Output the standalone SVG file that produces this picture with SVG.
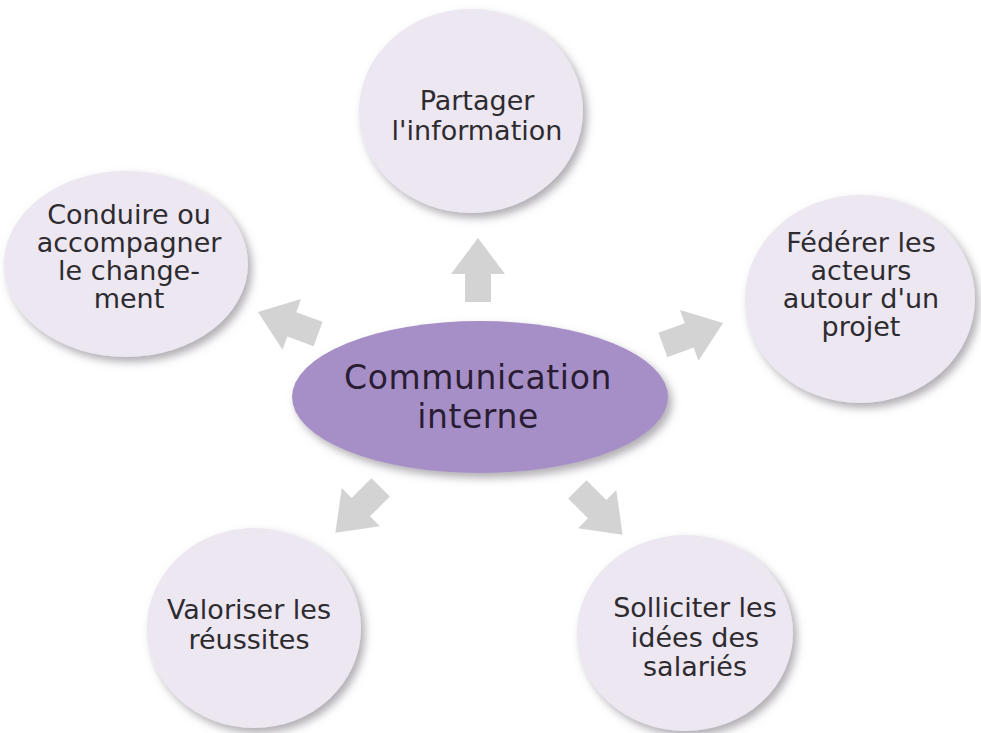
<svg xmlns="http://www.w3.org/2000/svg" width="981" height="733" viewBox="0 0 981 733">
  <defs>
    <filter id="shadow" x="-20%" y="-20%" width="150%" height="150%">
      <feDropShadow dx="4" dy="5" stdDeviation="4" flood-color="#6f6a75" flood-opacity="0.55"/>
    </filter>
    <path id="arrow" d="M-32,-13 H-4 V-27 L32,0 L-4,27 V13 H-32 Z"/>
  </defs>
  <style>
    .bubble { fill: #ece7f1; filter: url(#shadow); }
    .hub { fill: #a68fc6; filter: url(#shadow); }
    .label { font-family: "DejaVu Sans", Verdana, sans-serif; font-size: 27px; fill: #2e2b30; text-anchor: middle; }
    .hub-label { font-family: "DejaVu Sans", Verdana, sans-serif; font-size: 33px; letter-spacing: 0.6px; fill: #2a1d33; text-anchor: middle; }
    .arrow { fill: #d3d3d3; }
  </style>
  <rect width="981" height="733" fill="#ffffff"/>

  <!-- block arrows radiating from the hub -->
  <g id="connectors">
    <use href="#arrow" class="arrow" transform="translate(478,270) rotate(-90)"/>
    <use href="#arrow" class="arrow" transform="translate(693,334) rotate(-20)"/>
    <use href="#arrow" class="arrow" transform="translate(288,323) rotate(200)"/>
    <use href="#arrow" class="arrow" transform="translate(358,510) rotate(135)"/>
    <use href="#arrow" class="arrow" transform="translate(600,512) rotate(45)"/>
  </g>

  <g id="hub">
    <ellipse class="hub" cx="480" cy="397" rx="188" ry="76"/>
    <text class="hub-label" x="478" y="389">Communication</text>
    <text class="hub-label" x="478" y="428">interne</text>
  </g>

  <g id="partager">
    <ellipse class="bubble" cx="471" cy="111" rx="112" ry="102"/>
    <text class="label" x="477" y="110">Partager</text>
    <text class="label" x="477" y="140">l'information</text>
  </g>

  <g id="conduire">
    <ellipse class="bubble" cx="126" cy="264" rx="122" ry="93"/>
    <text class="label" x="129" y="224">Conduire ou</text>
    <text class="label" x="129" y="252">accompagner</text>
    <text class="label" x="129" y="280">le change-</text>
    <text class="label" x="129" y="308">ment</text>
  </g>

  <g id="federer">
    <ellipse class="bubble" cx="860" cy="299" rx="115" ry="104"/>
    <text class="label" x="861" y="252">Fédérer les</text>
    <text class="label" x="861" y="280">acteurs</text>
    <text class="label" x="861" y="308">autour d'un</text>
    <text class="label" x="861" y="336">projet</text>
  </g>

  <g id="valoriser">
    <ellipse class="bubble" cx="254" cy="628" rx="107" ry="100"/>
    <text class="label" x="249" y="619">Valoriser les</text>
    <text class="label" x="249" y="649">réussites</text>
  </g>

  <g id="solliciter">
    <ellipse class="bubble" cx="685" cy="633" rx="108" ry="98"/>
    <text class="label" x="695" y="617">Solliciter les</text>
    <text class="label" x="695" y="647">idées des</text>
    <text class="label" x="695" y="676">salariés</text>
  </g>
</svg>
